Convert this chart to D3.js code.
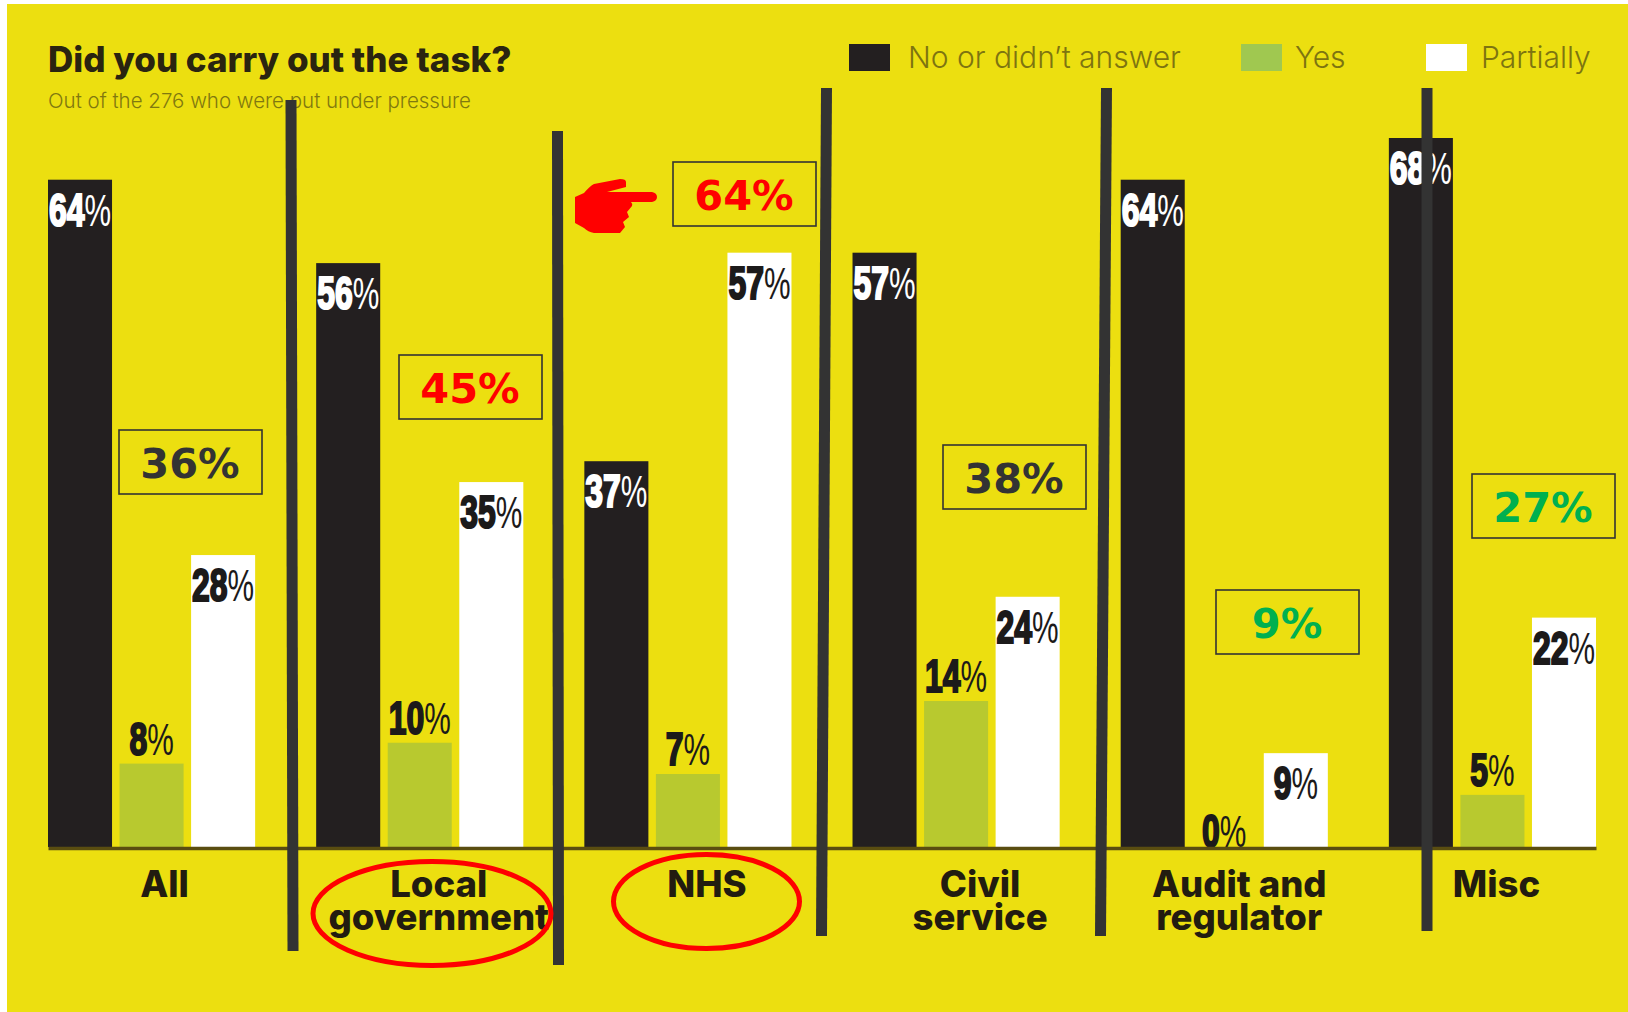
<!DOCTYPE html>
<html>
<head>
<meta charset="utf-8">
<script src="https://cdn.jsdelivr.net/npm/d3@7/dist/d3.min.js"></script>
<style>
  html, body { margin: 0; padding: 0; background: #fff; }
  svg { display: block; }
</style>
</head>
<body>
<svg id="chart" width="1628" height="1012"></svg>
<script>
// Survey results
const categories = ["All", "Local government", "NHS", "Civil service", "Audit and regulator", "Misc"];
const categoryLines = [["All"], ["Local", "government"], ["NHS"], ["Civil", "service"], ["Audit and", "regulator"], ["Misc"]];
const seriesNames = ["No or didn’t answer", "Yes", "Partially"];
const noValues = [64, 56, 37, 57, 64, 68];
const yesValues = [8, 10, 7, 14, 0, 5];
const partialValues = [28, 35, 57, 24, 9, 22];
const boxedLabels = ["36%", "45%", "64%", "38%", "9%", "27%"];

// Layout
const colors = { bg: "#ecdf10", no: "#231f20", yes: "#b8c92f", partial: "#ffffff", rule: "#333333", axis: "#5a4d10" };
const boxColors = ["#333333", "#ff0000", "#ff0000", "#333333", "#00b050", "#00b050"];
const boxOrigins = [[119, 430], [399, 355], [673, 162], [943, 445], [1216, 590], [1472, 474]];
const labelShift = [13, 19, 19, 24, 15, 4];
const dividers = [[291, 100, 293, 951], [557.5, 131, 558.5, 965], [826.5, 88, 821.5, 936], [1106.5, 88, 1100.5, 936], [1427, 88, 1427, 931]];

const svg = d3.select("#chart");
svg.append("rect").attr("x", 7).attr("y", 4).attr("width", 1621).attr("height", 1008).attr("fill", colors.bg);

const x0 = d3.scaleBand().domain(categories).range([48, 1596]).paddingInner(0.2276);
const x1 = d3.scaleBand().domain(seriesNames).range([0, x0.bandwidth()]).paddingInner(0.105);
const y = d3.scaleLinear().domain([0, 68]).range([847, 138]);
const fill = d3.scaleOrdinal().domain(seriesNames).range([colors.no, colors.yes, colors.partial]);
const series = [noValues, yesValues, partialValues];

const rows = categories.flatMap((c, i) => seriesNames.map((s, j) => ({ c, s, j, v: series[j][i] })));

// Bars
svg.append("g").selectAll("rect").data(rows).join("rect")
  .attr("x", d => x0(d.c) + x1(d.s))
  .attr("y", d => y(d.v))
  .attr("width", x1.bandwidth())
  .attr("height", d => y(0) - y(d.v))
  .attr("fill", d => fill(d.s));

// Value labels: heavy condensed digits with a thin percent sign.
const valueFont = "'Liberation Sans Narrow', 'Liberation Sans', sans-serif";
const labelY = d => {
  if (d.j === 1) return d.v === 0 ? y(0) : y(d.v) - 9;
  return y(d.v) + 46;
};
const labels = svg.append("g").selectAll("g").data(rows).join("g")
  .attr("transform", d => `translate(${x0(d.c) + x1(d.s) + x1.bandwidth() / 2},${labelY(d)}) scale(0.68,1)`);
labels.append("text")
  .attr("text-anchor", "middle")
  .attr("font-family", valueFont)
  .attr("font-size", 47)
  .attr("fill", d => d.j === 0 ? "#ffffff" : "#1c1a1a")
  .each(function (d) {
    const t = d3.select(this);
    t.append("tspan").text(d.v)
      .attr("font-weight", 700)
      .attr("stroke", d.j === 0 ? "#ffffff" : "#1c1a1a")
      .attr("stroke-width", 2.2);
    t.append("tspan").text("%").attr("font-weight", 400).attr("font-size", 44);
  });

// Baseline
const axis = d3.axisBottom(x0).tickSize(0).tickFormat("");
const axisG = svg.append("g").attr("transform", `translate(0,${y(0) + 1})`).call(axis);
axisG.select(".domain").attr("stroke", colors.axis).attr("stroke-width", 3.5);

// Category labels
const catLabels = svg.append("g").selectAll("text").data(categories).join("text")
  .attr("text-anchor", "middle")
  .attr("font-family", "Inter, 'Liberation Sans', sans-serif")
  .attr("font-weight", 800)
  .attr("font-size", 36.5)
  .attr("fill", "#221c10");
catLabels.each(function (c, i) {
  const cx = x0(c) + x0.bandwidth() / 2 + labelShift[i];
  d3.select(this).selectAll("tspan").data(categoryLines[i]).join("tspan")
    .attr("x", cx)
    .attr("y", (d, k) => 897 + k * 33)
    .text(d => d);
});

// Title, subtitle
svg.append("text").attr("x", 48).attr("y", 72)
  .attr("font-family", "Inter, 'Liberation Sans', sans-serif").attr("font-weight", 800)
  .attr("font-size", 35).attr("fill", "#2a2410").text("Did you carry out the task?");
svg.append("text").attr("x", 48).attr("y", 108)
  .attr("font-family", "Inter, 'Liberation Sans', sans-serif").attr("font-weight", 300)
  .attr("font-size", 20.5).attr("fill", "#80780f").text("Out of the 276 who were put under pressure");

// Legend
const legendSwatchX = [849, 1241, 1426];
const legendTextX = [908, 1295, 1481];
const legendColors = [colors.no, "#a0c850", colors.partial];
const legend = svg.append("g").selectAll("g").data(seriesNames).join("g");
legend.append("rect").attr("x", (d, i) => legendSwatchX[i]).attr("y", 44).attr("width", 41).attr("height", 27)
  .attr("fill", (d, i) => legendColors[i]);
legend.append("text").attr("x", (d, i) => legendTextX[i]).attr("y", 68)
  .attr("font-family", "Inter, 'Liberation Sans', sans-serif").attr("font-weight", 300)
  .attr("font-size", 30).attr("fill", "#7d7410").text(d => d);

// Dividers between categories
svg.append("g").selectAll("line").data(dividers).join("line")
  .attr("x1", d => d[0]).attr("y1", d => d[1]).attr("x2", d => d[2]).attr("y2", d => d[3])
  .attr("stroke", colors.rule).attr("stroke-width", 11);

// Boxed percentages
const boxes = svg.append("g").selectAll("g").data(boxedLabels).join("g")
  .attr("transform", (d, i) => `translate(${boxOrigins[i][0]},${boxOrigins[i][1]})`);
boxes.append("rect").attr("width", 143).attr("height", 64).attr("fill", "none")
  .attr("stroke", "#333333").attr("stroke-width", 1.6);
boxes.append("text").attr("x", 71).attr("y", 47.5).attr("text-anchor", "middle")
  .attr("font-family", "'DejaVu Sans', sans-serif").attr("font-weight", 700).attr("font-size", 41.5)
  .attr("fill", (d, i) => boxColors[i]).text(d => d);

// Circled categories
const rings = [[432, 913.5, 119, 52], [706.5, 901.5, 93, 47]];
svg.append("g").selectAll("ellipse").data(rings).join("ellipse")
  .attr("cx", d => d[0]).attr("cy", d => d[1]).attr("rx", d => d[2]).attr("ry", d => d[3])
  .attr("fill", "none").attr("stroke", "#ff0000").attr("stroke-width", 5);

// Pointing hand
const hand = "M575,197 L584,193 Q590,186 594,184 L620,179 Q626,179 626,182 L626,187 L607,192 L652,192 Q657,193 657,197 Q657,201 652,202 L631,202 Q633,204 632,206 L627,212 L629,217 L623,222 L625,227 L620,233 L594,233 Q588,232 584,228 L575,223 Z";
svg.append("path").attr("d", hand).attr("fill", "#ff0000");
</script>
</body>
</html>
